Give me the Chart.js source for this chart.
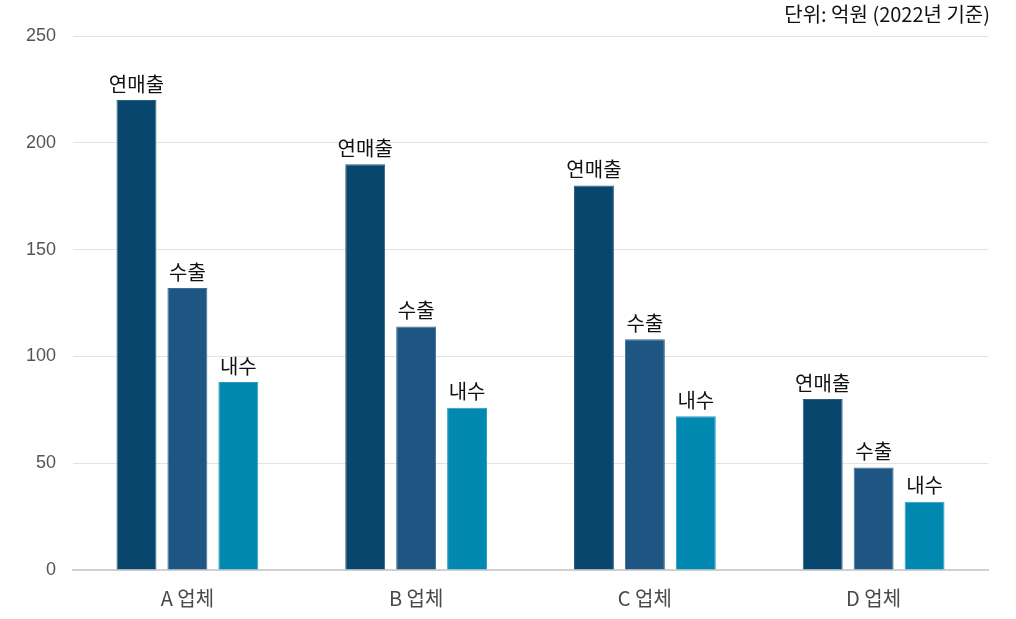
<!DOCTYPE html>
<html>
<head>
<meta charset="utf-8">
<script src="https://cdn.jsdelivr.net/npm/chart.js@4"></script>
<style>
html,body{margin:0;padding:0;background:#fff;}
#wrap{width:1016px;height:619px;position:relative;}
</style>
</head>
<body>
<div id="wrap"><canvas id="c" width="1016" height="619"></canvas></div>
<script>
const categories = ['A 업체', 'B 업체', 'C 업체', 'D 업체'];
const seriesNames = ['연매출', '수출', '내수'];
const sales = [220, 190, 180, 80];
const exportsVals = [132, 114, 108, 48];
const domestic = [88, 76, 72, 32];
const yTicks = [0, 50, 100, 150, 200, 250];
const unitNote = '단위: 억원 (2022년 기준)';

const colors = ['#08466e', '#1f5583', '#0088b0'];
const borders = ['#2a5f84', '#3b6c96', '#2d9cc0'];
const koFont = '"Noto Sans CJK KR", "Noto Sans", sans-serif';

const labelPlugin = {
  id: 'barLabels',
  afterDatasetsDraw(chart) {
    const ctx = chart.ctx;
    ctx.save();
    ctx.font = '20px ' + koFont;
    ctx.fillStyle = '#111';
    ctx.textAlign = 'center';
    ctx.textBaseline = 'bottom';
    chart.data.datasets.forEach((ds, i) => {
      const meta = chart.getDatasetMeta(i);
      meta.data.forEach(bar => {
        ctx.fillText(ds.label, bar.x, bar.y - 6);
      });
    });
    ctx.font = '20px ' + koFont;
    ctx.textAlign = 'right';
    ctx.textBaseline = 'middle';
    ctx.fillText(unitNote, chart.chartArea.right + 2, 14);
    ctx.restore();
  }
};

new Chart(document.getElementById('c'), {
  type: 'bar',
  data: {
    labels: categories,
    datasets: [
      { label: seriesNames[0], data: sales },
      { label: seriesNames[1], data: exportsVals },
      { label: seriesNames[2], data: domestic }
    ].map((d, i) => Object.assign(d, {
      backgroundColor: colors[i],
      borderColor: borders[i],
      borderWidth: 1,
      categoryPercentage: 0.668,
      barPercentage: 0.784
    }))
  },
  options: {
    responsive: false,
    animation: false,
    devicePixelRatio: 1,
    layout: { padding: { top: 36, right: 28, bottom: 0, left: 9 } },
    plugins: {
      legend: { display: false },
      tooltip: { enabled: false }
    },
    scales: {
      x: {
        grid: { display: false, drawTicks: false },
        border: { color: '#d0d0d0', width: 2 },
        ticks: { color: '#4a4a4a', font: { family: koFont, size: 20 }, padding: 16 },
        afterFit(axis) { axis.height = 49; }
      },
      y: {
        min: 0, max: 250,
        afterBuildTicks(axis) { axis.ticks = yTicks.map(v => ({ value: v })); },
        grid: { color: '#e3e3e3', drawTicks: false, lineWidth: 1 },
        border: { display: false },
        ticks: { color: '#555', font: { family: '"Liberation Sans", Arial, sans-serif', size: 18 }, padding: 17 }
      }
    }
  },
  plugins: [labelPlugin]
});
</script>
</body>
</html>
